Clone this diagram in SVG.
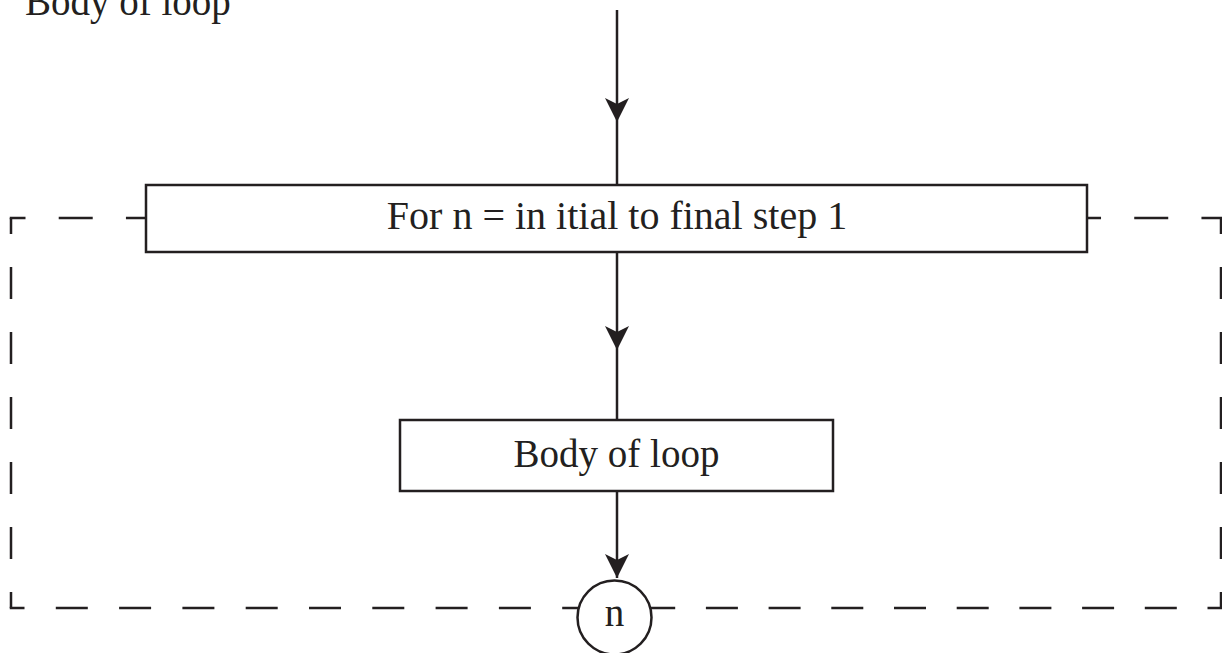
<svg xmlns="http://www.w3.org/2000/svg" width="1222" height="653" viewBox="0 0 1222 653">
<style>
  .ln { stroke: #231f20; stroke-width: 2.5; fill: none; }
  .dash { stroke: #231f20; stroke-width: 2.5; fill: none; }
  .box { stroke: #231f20; stroke-width: 2.5; fill: #ffffff; }
  .txt { font-family: "Liberation Serif", "Times New Roman", serif; font-size: 39px; fill: #231f20; }
  .head { fill: #231f20; stroke: none; }
</style>
<rect width="1222" height="653" fill="#ffffff"/>
<text class="txt" x="25" y="15">Body of loop</text>
<g id="loop-boundary">
  <path class="dash" d="M11,218 V608" stroke-dasharray="32 33" stroke-dashoffset="16"/>
  <path class="dash" d="M1221,218 V608" stroke-dasharray="32 33" stroke-dashoffset="16"/>
  <path class="dash" d="M9.75,218 H1222.25" stroke-dasharray="34 33.22" stroke-dashoffset="18.25"/>
  <path class="dash" d="M9.75,608 H616" stroke-dasharray="32 31.3" stroke-dashoffset="17.25"/>
  <path class="dash" d="M1222.25,608 H616" stroke-dasharray="32 30.7" stroke-dashoffset="17.25"/>
</g>
<g id="connectors">
  <path class="ln" d="M617,10 V185"/>
  <path class="head" d="M605,98 L617,104 L629,98 L617,122 Z"/>
  <path class="ln" d="M617,252 V420"/>
  <path class="head" d="M605,326 L617,332 L629,326 L617,350 Z"/>
  <path class="ln" d="M617,491 V578"/>
  <path class="head" d="M605,554 L617,560 L629,554 L617,578 Z"/>
</g>
<g id="node-for">
  <rect class="box" x="146" y="185" width="941" height="67"/>
  <text class="txt" x="617" y="229" text-anchor="middle" style="font-size:40px">For n = in itial to final step 1</text>
</g>
<g id="node-body">
  <rect class="box" x="400" y="420" width="433" height="71"/>
  <text class="txt" x="616.5" y="467" text-anchor="middle">Body of loop</text>
</g>
<g id="node-n">
  <circle class="box" cx="614.5" cy="617.5" r="37"/>
  <text class="txt" x="614.5" y="626" text-anchor="middle">n</text>
</g>
</svg>
